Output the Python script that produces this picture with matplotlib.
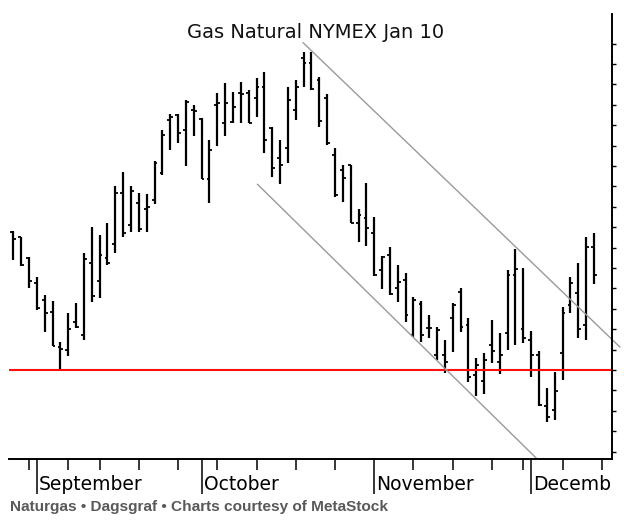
import numpy as np
import pandas as pd
import matplotlib
matplotlib.use("Agg")
import matplotlib.pyplot as plt
from matplotlib.transforms import Bbox, TransformedBbox, blended_transform_factory

plt.rcParams['font.family'] = ['Liberation Sans', 'DejaVu Sans']

title = "Gas Natural NYMEX Jan 10"
caption = "Naturgas \u2022 Dagsgraf \u2022 Charts courtesy of MetaStock"

# trading days shown (Aug 27 - Dec 11, 2009), exchange holidays removed
first_day = "2009-08-27"
last_day = "2009-12-11"
holidays = ["2009-09-07", "2009-11-26"]
month_names = ["September", "October", "November", "December"]

# daily OHLC
opens = [5.178, 5.152, 5.049, 4.928, 4.843, 4.786, 4.614, 4.598, 4.737, 4.672,
         5.026, 4.936, 5.049, 5.116, 5.369, 5.211, 5.320, 5.288, 5.333, 5.464,
         5.725, 5.750, 5.676, 5.775, 5.730, 5.435, 5.799, 5.712, 5.717, 5.856,
         5.856, 5.833, 5.889, 5.685, 5.538, 5.587, 5.775, 6.028, 6.003, 5.922,
         5.833, 5.554, 5.480, 5.505, 5.222, 5.245, 5.173, 4.990, 5.064, 4.900,
         4.941, 4.672, 4.824, 4.704, 4.574, 4.574, 4.753, 4.882, 4.721, 4.475,
         4.448, 4.623, 4.541, 4.680, 4.966, 4.700, 4.647, 4.574, 4.324, 4.304,
         4.582, 4.819, 4.876, 4.721, 5.101]
highs = [5.183, 5.153, 5.055, 4.957, 4.868, 4.840, 4.639, 4.778, 4.827, 5.075,
         5.202, 5.162, 5.222, 5.402, 5.469, 5.402, 5.369, 5.361, 5.526, 5.676,
         5.755, 5.755, 5.824, 5.799, 5.734, 5.627, 5.856, 5.905, 5.864, 5.913,
         5.873, 5.930, 5.959, 5.693, 5.627, 5.889, 5.922, 6.060, 6.060, 5.938,
         5.851, 5.587, 5.505, 5.505, 5.288, 5.418, 5.251, 5.059, 5.104, 5.015,
         4.977, 4.859, 4.838, 4.770, 4.712, 4.647, 4.827, 4.900, 4.753, 4.557,
         4.585, 4.745, 4.683, 4.990, 5.092, 4.999, 4.693, 4.595, 4.410, 4.492,
         4.810, 4.954, 5.026, 5.153, 5.173]
lows = [5.039, 5.010, 4.900, 4.794, 4.685, 4.619, 4.495, 4.569, 4.704, 4.647,
        4.835, 4.851, 5.015, 5.072, 5.153, 5.175, 5.175, 5.175, 5.314, 5.456,
        5.578, 5.611, 5.500, 5.647, 5.435, 5.317, 5.598, 5.647, 5.709, 5.709,
        5.709, 5.742, 5.562, 5.445, 5.412, 5.513, 5.725, 5.889, 5.873, 5.690,
        5.603, 5.347, 5.325, 5.219, 5.129, 5.109, 4.962, 4.896, 4.868, 4.835,
        4.737, 4.663, 4.639, 4.655, 4.549, 4.484, 4.590, 4.688, 4.443, 4.373,
        4.382, 4.533, 4.480, 4.598, 4.623, 4.631, 4.467, 4.324, 4.247, 4.255,
        4.451, 4.778, 4.655, 4.647, 4.922]
closes = [5.142, 5.015, 4.936, 4.805, 4.778, 4.619, 4.601, 4.700, 4.712, 5.043,
          4.864, 5.064, 5.026, 5.369, 5.173, 5.379, 5.190, 5.300, 5.516, 5.652,
          5.739, 5.663, 5.815, 5.770, 5.435, 5.578, 5.807, 5.810, 5.791, 5.853,
          5.712, 5.889, 5.627, 5.489, 5.505, 5.824, 5.889, 6.005, 5.876, 5.722,
          5.611, 5.358, 5.440, 5.219, 5.260, 5.195, 4.966, 5.055, 4.873, 4.933,
          4.770, 4.843, 4.672, 4.704, 4.696, 4.539, 4.819, 4.712, 4.464, 4.525,
          4.549, 4.595, 4.574, 4.966, 4.994, 4.655, 4.574, 4.328, 4.271, 4.399,
          4.781, 4.928, 4.700, 5.101, 4.966]

support = 4.50
upper_channel = ([36.94, 77.3], [6.104, 4.613])
lower_channel = ([31.13, 66.68], [5.410, 4.067])

days = pd.bdate_range(first_day, last_day)
days = days[~days.isin(pd.to_datetime(holidays))]
x = np.arange(len(days))

month_start = [i for i in x[1:] if days[i].month != days[i - 1].month]
week_start = [i for i in x[1:] if days[i].isocalendar()[1] != days[i - 1].isocalendar()[1]]
week_start = [i for i in week_start if i not in month_start]
week_start.append(len(days))  # next monday, just inside the right edge

fig = plt.figure(figsize=(6.24, 5.25), dpi=100)
ax = fig.add_axes([9 / 624, 66 / 525, 603 / 624, 445 / 525])

ax.vlines(x, lows, highs, color="black", lw=1.6)
ax.hlines(opens, x - 0.36, x, color="black", lw=1.3)
ax.hlines(closes, x, x + 0.36, color="black", lw=1.3)

ax.axhline(support, color="#ff1010", lw=1.5)
ax.plot(*upper_channel, color="#9a9a9a", lw=1.0, clip_on=False)
ax.plot(*lower_channel, color="#9a9a9a", lw=1.0)

ax.set_xlim(-0.55, 76.3)
ax.set_ylim(4.064, 6.245)

ax.spines['left'].set_visible(False)
ax.spines['top'].set_visible(False)
ax.spines['right'].set_linewidth(1.4)
ax.spines['bottom'].set_linewidth(1.4)

ax.yaxis.tick_right()
ax.set_yticks(np.arange(4.1, 6.15, 0.1))
ax.tick_params(axis='y', direction='out', length=3, width=1.0, labelright=False)

ax.set_xticks(week_start)
ax.set_xticks(month_start, minor=True)
ax.tick_params(axis='x', which='major', direction='out', length=8, width=1.1, labelbottom=False)
ax.tick_params(axis='x', which='minor', direction='out', length=25, width=1.1, labelbottom=False)

# month names sit right of the separator; the last one is cut at the right axis
trans = blended_transform_factory(ax.transData, ax.transAxes)
clip = TransformedBbox(Bbox.from_extents(0, -1, 1, 1), ax.transAxes)
for i, name in zip(month_start, month_names):
    t = ax.text(i + 0.3, -0.057, name, transform=trans, fontsize=13.5,
                family='DejaVu Sans', ha='left', va='center', color='black', clip_on=True)
    t.set_clip_box(clip)

fig.text(316 / 624, 1 - 33 / 525, title, ha='center', va='center', fontsize=14,
         family='DejaVu Sans', color='#111111')
fig.text(10 / 624, 1 - 507 / 525, caption, ha='left', va='center', fontsize=11.1,
         fontweight='bold', color='#595959')

fig.savefig("out.png", dpi=100, facecolor='white')
